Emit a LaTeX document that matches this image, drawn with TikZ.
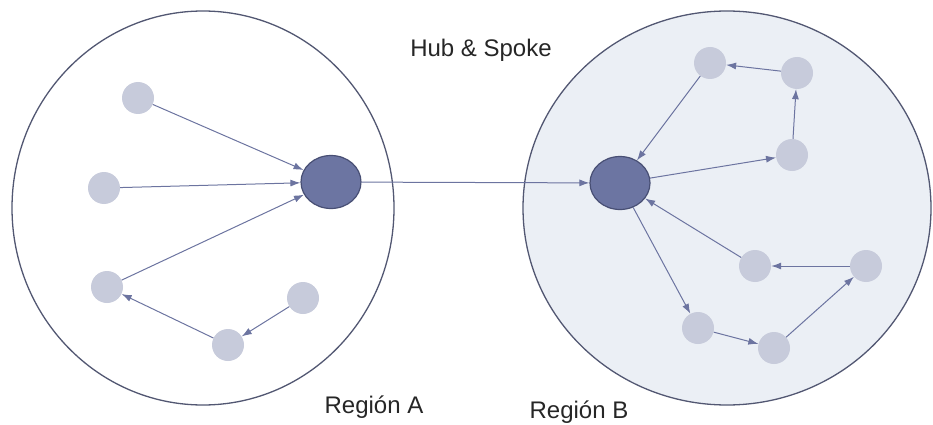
\documentclass[tikz,border=0pt]{standalone}
\usepackage{fontspec}
\setmainfont{Liberation Sans}
\usetikzlibrary{arrows.meta,shapes.geometric}
\definecolor{rimgray}{RGB}{82,87,114}
\definecolor{regionfill}{RGB}{235,239,245}
\definecolor{spokefill}{RGB}{199,203,219}
\definecolor{hubfill}{RGB}{108,117,162}
\definecolor{hubrim}{RGB}{72,79,116}
\definecolor{linkcol}{RGB}{108,116,160}

\begin{document}
\begin{tikzpicture}[x=1pt,y=-1pt,
		spoke/.style={circle,fill=spokefill,minimum size=32pt,inner sep=0pt},
		hub/.style={ellipse,draw=hubrim,line width=1.2pt,fill=hubfill,minimum width=60pt,minimum height=53pt,inner sep=0pt},
		link/.style={draw=linkcol,line width=1pt,-{Latex[length=10pt,width=7pt]}},
		regiontext/.style={font=\fontsize{24}{28}\selectfont,text=black!85}]
		%%%%% START %%%%%
		
		\useasboundingbox (0,0) rectangle (933,425);
		
		% regions
		\draw[line width=1.3pt, draw=rimgray] (203, 208) ellipse (191 and 197);
		\draw[line width=1.3pt, draw=rimgray, fill=regionfill] (727, 208) ellipse (204 and 197);
		
		% region A
		\node[hub] (hubA) at (331, 182) {};
		\node[spoke] (a1) at (138, 98) {};
		\node[spoke] (a2) at (104, 188) {};
		\node[spoke] (a3) at (107, 287) {};
		\node[spoke] (a4) at (303, 298) {};
		\node[spoke] (a5) at (228, 345) {};
		
		% region B
		\node[hub] (hubB) at (620, 183) {};
		\node[spoke] (b1) at (710, 63) {};
		\node[spoke] (b2) at (797, 73) {};
		\node[spoke] (b3) at (792, 155) {};
		\node[spoke] (b4) at (755, 266) {};
		\node[spoke] (b5) at (866, 266) {};
		\node[spoke] (b6) at (698, 328) {};
		\node[spoke] (b7) at (774, 348) {};
		
		\draw[link] (a1) -- (hubA);
		\draw[link] (a2) -- (hubA);
		\draw[link] (a3) -- (hubA);
		\draw[link] (a5) -- (a3);
		\draw[link] (a4) -- (a5);
		
		\draw[link] (hubA) -- (hubB);
		
		\draw[link] (b1) -- (hubB);
		\draw[link] (b2) -- (b1);
		\draw[link] (b3) -- (b2);
		\draw[link] (hubB) -- (b3);
		\draw[link] (b5) -- (b4);
		\draw[link] (b4) -- (hubB);
		\draw[link] (hubB) -- (b6);
		\draw[link] (b6) -- (b7);
		\draw[link] (b7) -- (b5);
		
		% texts
		\node[regiontext] (title) at (481, 50) {Hub \& Spoke};
		\node[regiontext] (nameA) at (374, 407) {Región A};
		\node[regiontext] (nameB) at (579, 412) {Región B};
		
		%%%%% END %%%%%
	\end{tikzpicture}
\end{document}
